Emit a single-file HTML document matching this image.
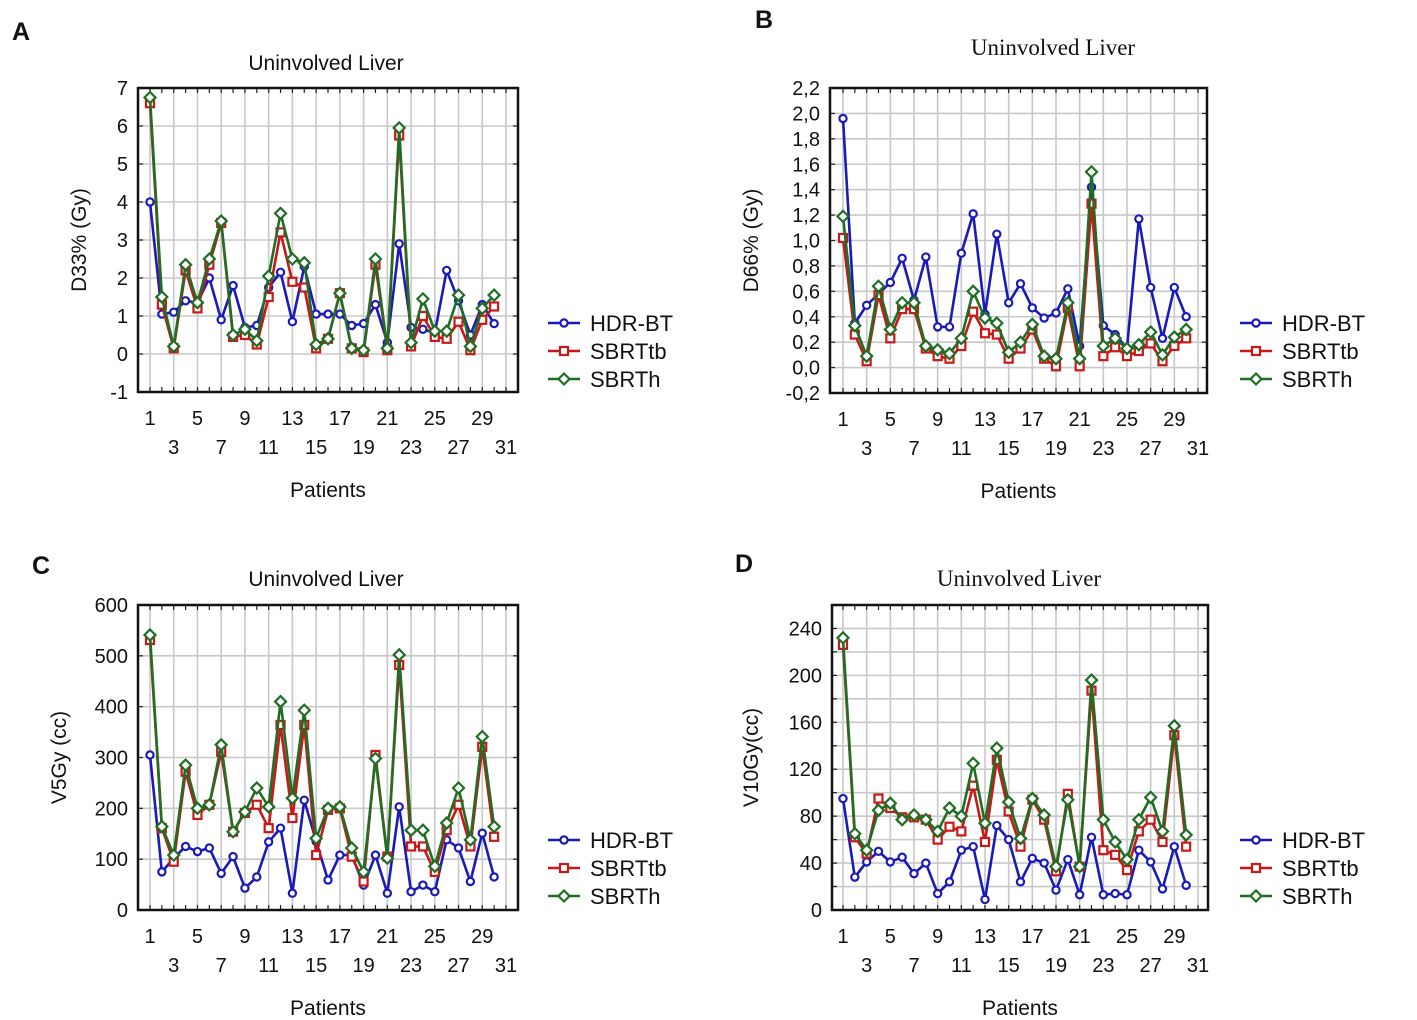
<!DOCTYPE html>
<html><head><meta charset="utf-8">
<style>
html,body{margin:0;padding:0;background:#fff;}
svg{display:block;}
text{font-family:"Liberation Sans",sans-serif;fill:#111;}
.serif{font-family:"Liberation Serif",serif;}
</style></head>
<body>
<svg id="chart" width="1417" height="1020" viewBox="0 0 1417 1020" xmlns="http://www.w3.org/2000/svg"></svg>
<script>
// ---- Data (patients 1..30) ----
const patients = [1,2,3,4,5,6,7,8,9,10,11,12,13,14,15,16,17,18,19,20,21,22,23,24,25,26,27,28,29,30];
const seriesNames = ["HDR-BT","SBRTtb","SBRTh"];
const xTickLabels = [1,3,5,7,9,11,13,15,17,19,21,23,25,27,29,31];

// Panel A: D33% (Gy)
const aHDR = [4.0,1.05,1.1,1.4,1.35,2.0,0.9,1.8,0.7,0.75,1.75,2.15,0.85,2.3,1.05,1.05,1.05,0.75,0.8,1.3,0.3,2.9,0.7,0.65,0.55,2.2,1.4,0.5,1.3,0.8];
const aTB  = [6.6,1.3,0.15,2.2,1.2,2.35,3.45,0.45,0.5,0.25,1.5,3.2,1.9,1.75,0.15,0.4,1.6,0.15,0.05,2.35,0.1,5.75,0.2,1.0,0.45,0.4,0.85,0.1,0.9,1.25];
const aH   = [6.75,1.5,0.2,2.35,1.35,2.5,3.5,0.5,0.65,0.35,2.05,3.7,2.5,2.4,0.25,0.4,1.6,0.15,0.1,2.5,0.15,5.95,0.3,1.45,0.6,0.6,1.55,0.2,1.2,1.55];
const aTicks = [-1,0,1,2,3,4,5,6,7];

// Panel B: D66% (Gy)
const bHDR = [1.96,0.35,0.49,0.58,0.67,0.86,0.53,0.87,0.32,0.32,0.9,1.21,0.42,1.05,0.51,0.66,0.47,0.39,0.43,0.62,0.17,1.42,0.33,0.26,0.15,1.17,0.63,0.23,0.63,0.4];
const bTB  = [1.02,0.26,0.05,0.57,0.23,0.46,0.46,0.15,0.09,0.07,0.17,0.44,0.27,0.26,0.07,0.15,0.3,0.07,0.01,0.47,0.01,1.29,0.09,0.16,0.09,0.13,0.19,0.05,0.17,0.23];
const bH   = [1.19,0.33,0.09,0.64,0.3,0.51,0.51,0.17,0.14,0.11,0.23,0.6,0.39,0.35,0.12,0.2,0.34,0.09,0.07,0.51,0.07,1.54,0.17,0.23,0.15,0.18,0.28,0.1,0.24,0.3];
const bTicks = [-0.2,0,0.2,0.4,0.6,0.8,1.0,1.2,1.4,1.6,1.8,2.0,2.2];

// Panel C: V5Gy (cc)
const cHDR = [305,75,102,125,115,122,72,105,43,65,134,161,33,216,135,59,108,108,49,108,33,203,36,49,36,138,122,56,151,65];
const cTB  = [531,161,95,272,187,207,311,154,191,207,161,364,181,364,108,197,200,105,56,305,105,482,125,125,75,157,207,125,321,144];
const cH   = [541,164,108,285,200,207,325,154,193,240,203,410,220,393,141,200,203,122,75,298,102,502,157,157,86,171,240,138,341,164];
const cTicks = [0,100,200,300,400,500,600];

// Panel D: V10Gy (cc)
const dHDR = [95,28,41,50,41,45,31,40,14,24,51,54,9,72,60,24,44,40,17,43,13,62,13,14,13,51,41,18,54,21];
const dTB  = [226,62,48,95,87,79,79,77,60,71,67,106,58,128,84,54,94,77,33,99,37,187,51,47,34,67,77,58,149,54];
const dH   = [232,65,51,85,91,77,81,77,67,87,80,125,74,138,92,61,95,81,37,94,37,196,77,58,43,77,96,67,157,64];
const dTicks = [0,40,80,120,160,200,240];

const NS = "http://www.w3.org/2000/svg";
const svg = document.getElementById('chart');
const COLORS = ["#1a1ab8","#c81818","#1f6e24"];

function mk(tag, attrs, parent){
  const e = document.createElementNS(NS, tag);
  for (const k in attrs) e.setAttribute(k, attrs[k]);
  (parent||svg).appendChild(e);
  return e;
}

function panel(cfg){
  const g = mk('g', {});
  
  
  const {L,R,T,B,ymin,ymax,x1,x31} = cfg;
  const xs = p => x1 + (p-1)*(x31-x1)/30;
  const ys = v => B - (v-ymin)/(ymax-ymin)*(B-T);
  const step = cfg.gridStep;
  for (let v = ymin; v <= ymax + 1e-9; v += step){
    const y = ys(v);
    const ln = mk('line', {x1:L, x2:R, y1:y, y2:y, stroke:'#c8c8c8', 'stroke-width':1.6}, g);
    
    
    mk('line',{x1:L,x2:L+5,y1:y,y2:y,stroke:'#222','stroke-width':1.2},g);
    mk('line',{x1:R-5,x2:R,y1:y,y2:y,stroke:'#222','stroke-width':1.2},g);
  }
  for (let p = 1; p <= 31; p++){
    const x = xs(p);
    if (p % 2 === 1){
      const ln = mk('line', {x1:x, x2:x, y1:T, y2:B, stroke:'#c8c8c8', 'stroke-width':1.6}, g);
      
      
    }
    mk('line',{x1:x,x2:x,y1:B-5,y2:B,stroke:'#222','stroke-width':1.2},g);
    mk('line',{x1:x,x2:x,y1:T,y2:T+5,stroke:'#222','stroke-width':1.2},g);
  }
  const fr = mk('rect', {x:L, y:T, width:R-L, height:B-T, fill:'none', stroke:'#111', 'stroke-width':2.5}, g);
  
  
  cfg.ticks.forEach(v => {
    const t = mk('text', {x:L-10, y:ys(v)+7, 'text-anchor':'end', 'font-size':20}, g);
    t.textContent = cfg.fmt(v);
    
    
  });
  xTickLabels.forEach((p,i) => {
    const t = mk('text', {x:xs(p), y:(i%2===0? B+33 : B+62), 'text-anchor':'middle', 'font-size':20}, g);
    t.textContent = p;
    
    
  });
  const xt = mk('text', {x:(L+R)/2, y:B+105, 'text-anchor':'middle', 'font-size':21}, g);
  xt.textContent = 'Patients';
  
  
  const yt = mk('text', {x:0, y:0, 'text-anchor':'middle', 'font-size':21, transform:`translate(${cfg.ytX},${(T+B)/2}) rotate(-90)`}, g);
  yt.textContent = cfg.ytitle;
  
  
  const tt = mk('text', {x:cfg.titleX, y:cfg.titleY, 'text-anchor':'middle', 'font-size':cfg.titleSize, class:cfg.titleSerif?'serif':''}, g);
  tt.textContent = 'Uninvolved Liver';
  
  
  const lt = mk('text', {x:cfg.letterX, y:cfg.letterY, 'font-size':25, 'font-weight':'bold'}, g);
  lt.textContent = cfg.letter;
  
  

  cfg.series.forEach((vals, si) => {
    const sg = mk('g', {}, g);
    
    
    const pts = vals.map((v,i) => xs(patients[i]) + ',' + ys(v)).join(' ');
    const pl = mk('polyline', {points:pts, fill:'none', stroke:COLORS[si], 'stroke-width':2.6}, sg);
    
    
    vals.forEach((v,i) => {
      const m = marker(sg, si, xs(patients[i]), ys(v));
      
      
    });
  });
  seriesNames.forEach((n, si) => {
    const y = cfg.legY + si*28;
    const lg = mk('g', {}, g);
    
    
    mk('line', {x1:cfg.legX, x2:cfg.legX+32, y1:y, y2:y, stroke:COLORS[si], 'stroke-width':2.4}, lg);
    marker(lg, si, cfg.legX+16, y);
    const t = mk('text', {x:cfg.legX+42, y:y+8, 'font-size':22}, lg);
    t.textContent = n;
  });
}

function marker(parent, si, x, y){
  if (si === 0) return mk('circle', {cx:x, cy:y, r:3.6, fill:'#fff', stroke:COLORS[0], 'stroke-width':2.2}, parent);
  if (si === 1) return mk('rect', {x:x-4, y:y-4, width:8, height:8, fill:'#fff', stroke:COLORS[1], 'stroke-width':2.2}, parent);
  return mk('polygon', {points:`${x},${y-5.5} ${x+5.5},${y} ${x},${y+5.5} ${x-5.5},${y}`, fill:'#fff', stroke:COLORS[2], 'stroke-width':2.2}, parent);
}

const dot = v => v.toFixed(0);
const comma = v => (Math.abs(v)<1e-9 ? '0,0' : v.toFixed(1).replace('.',','));

panel({id:'a', letter:'A', letterX:12, letterY:40, L:138, R:518, T:88, B:392, ymin:-1, ymax:7, gridStep:1,
  x1:150, x31:506, ticks:aTicks, fmt:dot, ytitle:'D33% (Gy)', ytX:86, titleX:326, titleY:70, titleSize:21, titleSerif:false,
  series:[aHDR,aTB,aH], legX:548, legY:323});
panel({id:'b', letter:'B', letterX:755, letterY:28, L:830, R:1207, T:88, B:393, ymin:-0.2, ymax:2.2, gridStep:0.2,
  x1:843, x31:1198, ticks:bTicks, fmt:comma, ytitle:'D66% (Gy)', ytX:758, titleX:1053, titleY:55, titleSize:23, titleSerif:true,
  series:[bHDR,bTB,bH], legX:1240, legY:323});
panel({id:'c', letter:'C', letterX:32, letterY:574, L:138, R:518, T:605, B:910, ymin:0, ymax:600, gridStep:100,
  x1:150, x31:506, ticks:cTicks, fmt:dot, ytitle:'V5Gy (cc)', ytX:66, titleX:326, titleY:586, titleSize:21, titleSerif:false,
  series:[cHDR,cTB,cH], legX:548, legY:840});
panel({id:'d', letter:'D', letterX:735, letterY:572, L:832, R:1208, T:605, B:910, ymin:0, ymax:260, gridStep:20,
  x1:843, x31:1198, ticks:dTicks, fmt:dot, ytitle:'V10Gy(cc)', ytX:758, titleX:1019, titleY:586, titleSize:23, titleSerif:true,
  series:[dHDR,dTB,dH], legX:1240, legY:840});
</script>
</body></html>
